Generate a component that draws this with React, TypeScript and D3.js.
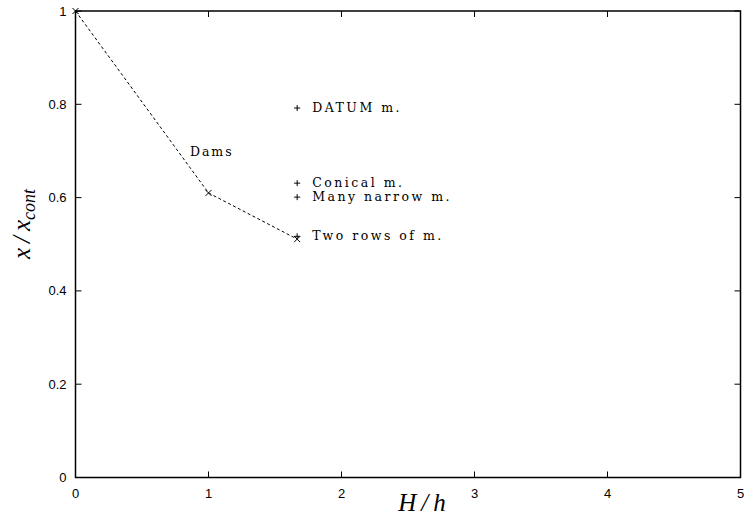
import React from "react";
import * as d3 from "d3";

// Dams series (connected with a dashed line)
const damsX = [0, 1, 5 / 3];
const damsY = [1, 0.61, 0.511];

// Single-measure points at H/h = 5/3
const measureNames = ["DATUM m.", "Conical m.", "Many narrow m.", "Two rows of m."];
const measureX = [5 / 3, 5 / 3, 5 / 3, 5 / 3];
const measureY = [0.792, 0.631, 0.601, 0.517];

const xTicks = [0, 1, 2, 3, 4, 5];
const yTicks = [0, 0.2, 0.4, 0.6, 0.8, 1];

const W = 745;
const H = 531;
const margin = { left: 75.5, right: 4.5, top: 11, bottom: 53.5 };

export default function App() {
  const x = d3.scaleLinear().domain([0, 5]).range([margin.left, W - margin.right]);
  const y = d3.scaleLinear().domain([0, 1]).range([H - margin.bottom, margin.top]);

  const line = d3
    .line<number>()
    .x((_, i) => x(damsX[i]))
    .y((d) => y(d));

  const serif = "'DejaVu Serif', 'Liberation Serif', serif";
  const mathSerif = "'Liberation Serif', 'DejaVu Serif', serif";
  const sans = "'Liberation Sans', Arial, sans-serif";

  const cross = (cx: number, cy: number, k: string) => (
    <g key={k} stroke="#000" strokeWidth={1}>
      <line x1={cx - 3} y1={cy - 3} x2={cx + 3} y2={cy + 3} />
      <line x1={cx - 3} y1={cy + 3} x2={cx + 3} y2={cy - 3} />
    </g>
  );
  const plus = (cx: number, cy: number, k: string) => (
    <g key={k} stroke="#000" strokeWidth={1}>
      <line x1={cx - 3} y1={cy} x2={cx + 3} y2={cy} />
      <line x1={cx} y1={cy - 3} x2={cx} y2={cy + 3} />
    </g>
  );

  return (
    <svg
      width={W}
      height={H}
      style={{ position: "absolute", left: 0, top: 0, background: "#fff" }}
    >
      <rect width={W} height={H} fill="#fff" />
      {/* frame */}
      <rect
        x={x(0)}
        y={y(1)}
        width={x(5) - x(0)}
        height={y(0) - y(1)}
        fill="none"
        stroke="#000"
        strokeWidth={1.5}
      />
      {/* inward ticks and labels */}
      {xTicks.map((t) => (
        <g key={"xt" + t}>
          <line x1={x(t)} x2={x(t)} y1={y(0)} y2={y(0) - 6} stroke="#000" />
          <line x1={x(t)} x2={x(t)} y1={y(1)} y2={y(1) + 6} stroke="#000" />
          <text
            x={x(t)}
            y={y(0) + 20}
            textAnchor="middle"
            fontFamily={sans}
            fontSize={13}
          >
            {t}
          </text>
        </g>
      ))}
      {yTicks.map((t) => (
        <g key={"yt" + t}>
          <line x1={x(0)} x2={x(0) + 6} y1={y(t)} y2={y(t)} stroke="#000" />
          <line x1={x(5)} x2={x(5) - 6} y1={y(t)} y2={y(t)} stroke="#000" />
          <text
            x={x(0) - 9}
            y={y(t) + 4.5}
            textAnchor="end"
            fontFamily={sans}
            fontSize={13}
          >
            {d3.format("~g")(t)}
          </text>
        </g>
      ))}
      {/* dams line */}
      <path
        d={line(damsY) ?? ""}
        fill="none"
        stroke="#000"
        strokeWidth={1}
        strokeDasharray="3,2.5"
      />
      {damsX.map((d, i) => cross(x(d), y(damsY[i]), "c" + i))}
      <text
        x={x(0.86)}
        y={y(0.69)}
        fontFamily={serif}
        fontSize={12.5}
        letterSpacing={2}
      >
        Dams
      </text>
      {measureX.map((d, i) => plus(x(d), y(measureY[i]), "p" + i))}
      {measureNames.map((n, i) => (
        <text
          key={n}
          x={x(measureX[i]) + 15}
          y={y(measureY[i]) + 4}
          fontFamily={serif}
          fontSize={12.5}
          letterSpacing={2.5}
        >
          {n}
        </text>
      ))}
      {/* axis titles */}
      <text
        x={422}
        y={511}
        textAnchor="middle"
        fontFamily={mathSerif}
        fontStyle="italic"
        fontSize={25}
      >
        H{"\u2009"}/{"\u2009"}h
      </text>
      <text
        transform={`translate(30,224) rotate(-90)`}
        textAnchor="middle"
        fontFamily={mathSerif}
        fontStyle="italic"
        fontSize={25}
      >
        x{"\u2009"}/{"\u2009"}x
        <tspan fontSize={18} dy={5}>
          cont
        </tspan>
      </text>
    </svg>
  );
}
